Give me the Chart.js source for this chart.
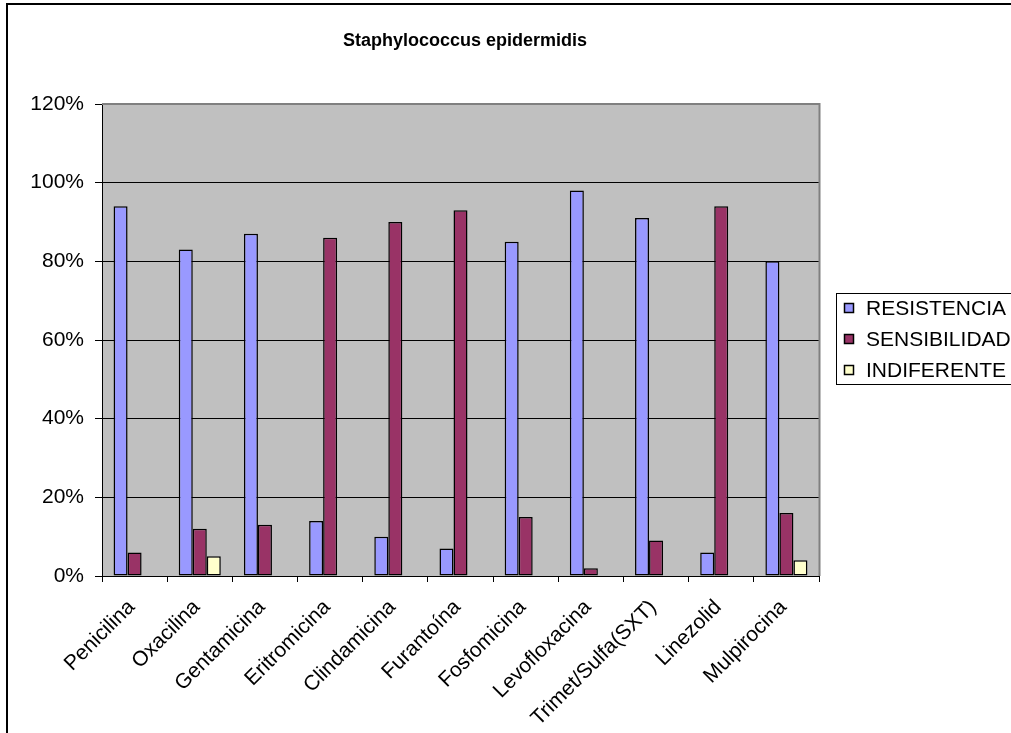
<!DOCTYPE html>
<html>
<head>
<meta charset="utf-8">
<script src="https://cdn.jsdelivr.net/npm/chart.js@4"></script>
<style>
  html, body { margin: 0; padding: 0; background: #fff; }
  #wrap { width: 1011px; height: 733px; }
</style>
</head>
<body>
<div id="wrap"><canvas id="myChart" width="1011" height="733"></canvas></div>
<script>
const chartTitle = 'Staphylococcus epidermidis';
const categories = ['Penicilina', 'Oxacilina', 'Gentamicina', 'Eritromicina', 'Clindamicina',
    'Furantoína', 'Fosfomicina', 'Levofloxacina', 'Trimet/Sulfa(SXT)', 'Linezolid', 'Mulpirocina'];
const resistencia  = [94, 83, 87, 14, 10, 7, 85, 98, 91, 6, 80];
const sensibilidad = [6, 12, 13, 86, 90, 93, 15, 2, 9, 94, 16];
const indiferente  = [null, 5, null, null, null, null, null, null, null, null, 4];
const yTicks = [0, 20, 40, 60, 80, 100, 120];

const FONT = 'Arial, "Liberation Sans", sans-serif';

// gray plot background, gray top/right edge, outer frame, title, legend
const backdrop = {
    id: 'backdrop',
    beforeDraw(chart) {
        const c = chart.ctx, a = chart.chartArea;
        c.save();
        c.fillStyle = '#fff';
        c.fillRect(0, 0, chart.width, chart.height);
        c.fillStyle = '#C0C0C0';
        c.fillRect(a.left, a.top, a.right - a.left, a.bottom - a.top);
        c.restore();
    },
    afterDraw(chart) {
        const c = chart.ctx, a = chart.chartArea;
        c.save();
        c.strokeStyle = '#808080';
        c.lineWidth = 2;
        c.beginPath();
        c.moveTo(a.left, a.top);
        c.lineTo(a.right + 0.5, a.top);
        c.lineTo(a.right + 0.5, a.bottom);
        c.stroke();
        // outer frame
        c.strokeStyle = '#000';
        c.lineWidth = 2;
        c.strokeRect(7, 4, chart.width + 20, chart.height + 20);
        // title
        c.fillStyle = '#000';
        c.font = 'bold 18px ' + FONT;
        c.textAlign = 'center';
        c.textBaseline = 'middle';
        c.fillText(chartTitle, 465, 41);
        // legend
        c.lineWidth = 1;
        c.strokeRect(836.5, 293.5, 220, 91);
        c.font = '21px ' + FONT;
        c.textAlign = 'left';
        chart.data.datasets.forEach(function (ds, i) {
            const y = 308 + i * 31;
            c.fillStyle = ds.backgroundColor;
            c.fillRect(844, y - 5, 10, 10);
            c.strokeStyle = '#000';
            c.lineWidth = 1.5;
            c.strokeRect(844.5, y - 4.5, 9, 9);
            c.fillStyle = '#000';
            c.fillText(ds.label, 866, y + 1);
        });
        c.restore();
    }
};

let ctx = document.getElementById('myChart').getContext('2d');
let myChart = new Chart(ctx, {
    type: 'bar',
    data: {
        labels: categories,
        datasets: [
            { label: 'RESISTENCIA', data: resistencia, backgroundColor: '#9999FF' },
            { label: 'SENSIBILIDAD', data: sensibilidad, backgroundColor: '#993366' },
            { label: 'INDIFERENTE', data: indiferente, backgroundColor: '#FFFFCC' }
        ]
    },
    options: {
        responsive: false,
        animation: false,
        layout: { padding: { left: 0, right: 192, top: 104, bottom: 0 } },
        datasets: {
            bar: {
                barPercentage: 1,
                categoryPercentage: 0.645,
                borderColor: '#000',
                borderWidth: 1.5,
                borderSkipped: false
            }
        },
        plugins: {
            legend: { display: false },
            title: { display: false },
            tooltip: { enabled: false }
        },
        scales: {
            x: {
                afterFit: function (scale) { scale.height = 157; },
                grid: {
                    offset: true,
                    drawOnChartArea: false,
                    tickLength: 6,
                    color: '#000',
                    tickColor: '#000'
                },
                border: { color: '#000', width: 1 },
                ticks: {
                    minRotation: 45,
                    maxRotation: 45,
                    autoSkip: false,
                    color: '#000',
                    font: { family: FONT, size: 21 },
                    padding: 13,
                    labelOffset: -3
                }
            },
            y: {
                min: 0,
                max: 120,
                afterFit: function (scale) { scale.width = 102; },
                afterBuildTicks: function (scale) {
                    scale.ticks = yTicks.map(function (v) { return { value: v }; });
                },
                grid: {
                    color: function (c) { return c.tick && c.tick.value === 120 ? '#808080' : '#000'; },
                    tickColor: '#000',
                    tickLength: 7,
                    lineWidth: 1
                },
                border: { color: '#000', width: 1 },
                ticks: {
                    color: '#000',
                    font: { family: FONT, size: 21 },
                    padding: 11,
                    callback: function (v) { return v + '%'; }
                }
            }
        }
    },
    plugins: [backdrop]
});
</script>
</body>
</html>
